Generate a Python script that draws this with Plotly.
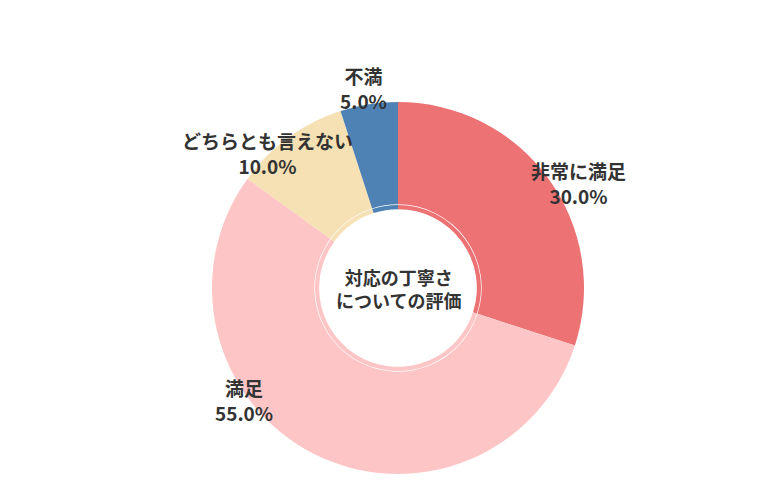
import plotly.graph_objects as go

labels = ["非常に満足", "満足", "どちらとも言えない", "不満"]
values = [30.0, 55.0, 10.0, 5.0]
colors = ["#EC7274", "#FEC5C6", "#F5E1B3", "#4E82B4"]
center_text = "対応の丁寧さ<br>についての評価"

font = "Noto Sans CJK JP"

fig = go.Figure()

# outer donut
fig.add_trace(go.Pie(
    labels=labels, values=values, sort=False, direction="clockwise", rotation=0,
    hole=0.45, marker=dict(colors=colors, line=dict(width=0)),
    domain=dict(x=[0.2615, 0.7385], y=[0.068, 0.812]),
    textinfo="none", showlegend=False, hoverinfo="label+percent",
))

# thin inner ring
fig.add_trace(go.Pie(
    labels=labels, values=values, sort=False, direction="clockwise", rotation=0,
    hole=0.95, marker=dict(colors=colors, line=dict(width=0)),
    domain=dict(x=[0.3936, 0.6064], y=[0.268, 0.612]),
    textinfo="none", showlegend=False, hoverinfo="skip",
))

# label placement (pixels from top-left), one per category
label_pos = [(620, 147), (205, 420), (172, 117), (355, 52)]
total = sum(values)
for lab, v, (px_, py_) in zip(labels, values, label_pos):
    fig.add_annotation(
        x=px_ / 780, y=1 - py_ / 500, xref="paper", yref="paper", showarrow=False,
        text=f"<b>{lab}<br>{v / total:.1%}</b>", align="center",
        font=dict(family=font, size=19, color="#333333"),
    )

fig.add_annotation(
    x=0.5, y=0.44, xref="paper", yref="paper", showarrow=False,
    text="<b>" + center_text + "</b>",
    font=dict(family=font, size=18, color="#333333"), align="center",
)

fig.update_layout(
    width=780, height=500, margin=dict(l=0, r=0, t=0, b=0),
    paper_bgcolor="white", plot_bgcolor="white",
)

fig.write_html("out.html")
